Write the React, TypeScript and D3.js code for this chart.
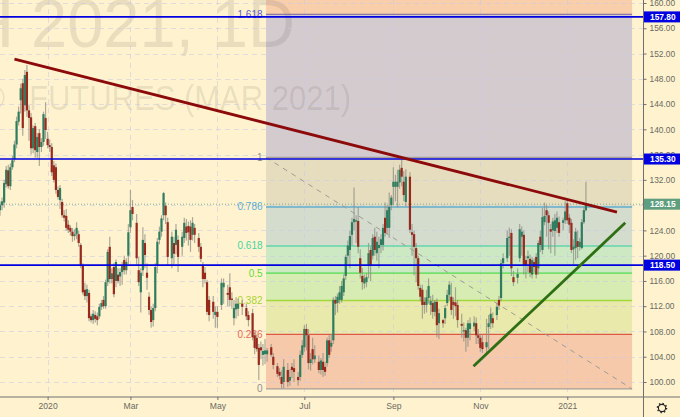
import React, { useEffect, useRef } from 'react'
import { select, scaleLinear, axisRight, axisBottom, line } from 'd3'

// rows are [session, open, high, low, close]
const barsDec19 = [
  [0,127.2,128.6,126.3,128.0],[1,128.0,129.2,127.2,128.6],[2,128.4,132.0,127.6,131.5],[3,131.3,134.2,130.8,133.6],
  [4,133.5,134.4,130.6,131.0],[5,131.0,134.6,130.4,134.0],[6,134.0,135.8,133.6,135.1],[7,135.3,138.2,134.8,137.6],
  [8,137.6,142.0,137.0,141.3],[9,141.2,143.6,140.6,142.8],[10,144.6,147.2,142.5,146.5],[11,147.3,148.0,139.0,140.2],
  [12,143.8,149.4,142.8,148.6],[13,149.1,150.2,142.0,143.0],[14,143.0,143.8,138.2,141.8],[15,141.9,142.6,136.0,137.0],
  [16,137.0,140.6,136.2,140.2],[17,140.5,141.0,135.5,136.7],[18,136.4,139.4,135.5,138.8],[19,139.4,140.0,134.2,137.2],
  [20,137.2,138.6,136.4,138.0],[21,138.0,142.8,137.4,142.4],[22,141.8,144.3,138.5,139.9],
]
const barsJanFeb = [
  [23,138.5,139.6,137.0,137.5],[24,137.5,138.4,136.4,137.2],[25,137.2,137.8,132.6,133.2],[26,134.3,135.0,131.6,132.0],
  [27,134.0,134.6,129.8,130.4],[28,130.4,131.0,128.9,129.3],[29,128.8,131.2,127.4,130.7],[30,128.5,129.0,126.0,126.4],
  [31,126.4,127.2,125.4,126.0],[32,126.3,127.4,124.0,124.4],[33,124.9,125.6,123.6,124.1],[34,124.4,124.8,123.2,123.8],
  [35,123.8,124.4,122.2,123.1],[36,123.1,124.2,122.4,123.4],[37,123.4,125.3,122.6,124.4],[38,123.4,124.0,121.4,122.0],
  [39,121.7,122.0,118.0,118.4],[40,118.4,118.8,113.8,114.2],[41,114.6,115.7,113.0,113.6],[42,113.6,115.4,112.6,114.7],
  [43,114.1,114.6,109.6,110.1],[44,110.4,110.8,109.4,109.8],[45,109.8,111.4,109.2,110.8],[46,110.6,111.2,109.4,110.0],
  [47,110.4,111.0,109.0,109.8],[48,110.4,112.4,110.0,111.9],[49,111.9,113.0,111.4,112.5],[50,113.0,113.6,111.6,112.0],
  [51,112.0,116.2,111.6,115.8],[52,115.8,121.0,115.2,120.6],[53,121.4,123.0,115.6,116.3],[54,116.3,118.0,115.6,117.2],
  [55,118.2,118.8,113.4,113.9],[56,116.0,119.4,115.0,119.0],[57,117.0,118.0,115.6,116.0],[58,116.7,118.0,115.2,117.4],
  [59,117.4,119.0,115.4,118.5],[60,119.3,120.0,117.0,117.7],[61,117.7,119.6,117.0,119.0],[62,120.0,125.0,118.6,123.7],
]
const barsMarApr = [
  [63,124.5,130.4,123.6,127.2],[64,127.7,128.8,125.6,126.6],[66,125.2,126.6,118.6,119.6],[67,117.7,119.8,115.2,115.8],
  [68,114.2,118.0,111.0,117.3],[69,117.7,124.5,116.8,122.5],[70,122.0,123.4,118.0,120.1],[71,117.3,118.8,114.6,116.5],
  [72,113.5,114.2,110.6,111.4],[73,111.4,112.0,108.6,109.5],[74,109.8,112.4,108.8,111.7],[75,111.7,118.8,111.2,118.2],
  [76,118.4,122.8,117.2,122.2],[77,122.5,124.6,121.8,123.8],[78,123.8,126.4,123.0,125.9],[79,126.4,130.1,125.6,129.9],
  [80,127.9,128.4,125.0,126.4],[81,125.3,126.0,118.5,119.8],[83,119.6,123.8,118.0,123.0],[84,122.0,123.0,118.6,120.3],
  [85,121.7,125.0,120.2,124.1],[86,122.5,123.2,117.4,119.8],[88,121.4,123.8,120.0,123.0],[89,122.8,126.0,122.0,125.2],
  [90,124.6,125.8,122.4,123.6],[91,124.7,125.4,121.6,123.7],[92,124.6,125.6,120.6,122.5],[93,123.3,126.1,122.4,125.2],
  [94,124.4,125.0,122.0,123.3],[96,122.8,123.6,120.6,121.4],[97,121.4,122.0,119.0,119.5],[98,118.4,119.0,115.0,116.3],
  [99,117.3,118.2,115.6,116.3],[100,115.8,116.2,110.6,111.1],[101,113.0,113.6,109.6,110.6],[103,112.7,113.6,110.0,111.1],
  [104,110.6,112.0,108.6,111.1],
]
const barsMayJun = [
  [105,111.1,112.0,108.6,110.3],[107,112.2,116.4,111.4,115.7],[108,115.0,116.4,112.4,115.7],[110,114.1,115.4,112.0,113.8],
  [111,115.0,117.2,112.0,113.0],[112,113.2,114.2,111.6,113.0],[113,110.1,113.0,109.0,111.7],[114,111.5,113.4,110.0,112.4],
  [115,111.6,113.2,110.4,112.4],[117,112.4,113.0,110.6,111.9],[119,111.7,112.4,109.8,110.4],[120,110.6,111.2,108.8,109.8],
  [122,110.9,111.6,106.6,107.1],[123,107.4,108.0,104.4,105.4],[124,107.0,107.4,104.8,105.2],[125,105.4,106.0,100.3,102.7],
  [126,105.5,106.4,103.6,105.0],[127,104.3,106.0,102.6,104.9],[128,104.4,106.8,102.8,105.0],[129,104.4,105.4,103.2,105.0],
  [131,105.5,106.0,104.0,104.3],[132,104.0,104.6,102.0,102.7],[134,102.5,103.0,100.8,101.3],[135,101.6,102.2,100.4,101.0],
  [136,100.8,101.8,99.0,99.7],[137,100.0,103.6,99.0,102.4],[139,101.9,103.0,99.2,100.0],[140,100.2,102.0,99.4,100.8],
  [141,102.4,103.0,100.6,101.9],[142,102.2,103.6,100.0,101.6],[144,100.8,101.6,99.4,100.3],[145,100.8,105.0,100.2,104.3],
  [146,104.3,106.6,103.8,105.8],
]
const barsJulAug = [
  [147,105.5,109.0,104.8,108.4],[148,108.4,109.2,105.0,107.4],[149,107.4,108.4,102.0,103.0],[150,103.0,104.6,101.8,103.6],
  [151,105.2,107.0,102.8,103.6],[152,103.6,105.8,103.0,104.2],[154,103.2,104.2,101.4,101.9],[155,101.9,103.8,101.2,103.4],
  [156,103.2,104.6,100.8,101.9],[157,102.4,103.2,101.0,101.6],[158,103.0,107.0,102.4,106.6],[159,106.6,107.4,103.8,104.3],
  [160,105.6,107.6,104.8,106.2],[161,106.6,113.4,106.0,113.0],[162,113.0,113.6,110.6,112.4],[163,112.5,114.0,111.0,113.5],
  [164,113.0,115.2,112.4,114.2],[165,113.0,116.0,112.6,115.2],[166,114.2,117.0,113.6,116.4],[167,116.8,120.2,116.2,119.8],
  [168,120.0,122.4,118.6,121.6],[169,120.9,124.0,118.0,123.1],[170,123.3,126.0,121.6,125.3],[171,125.3,130.8,124.0,125.8],
  [172,125.4,126.4,122.0,125.6],[173,125.5,127.7,120.4,121.4],[174,119.6,121.0,116.4,117.3],[175,116.8,118.0,114.6,115.8],
  [176,115.6,117.0,114.8,116.4],[177,115.8,117.2,115.0,116.6],[178,118.5,122.0,116.4,120.4],[179,120.9,121.4,116.0,118.5],
  [180,120.0,123.4,119.4,122.8],[181,123.0,124.4,120.0,120.9],[182,120.4,123.8,119.2,122.2],[183,121.2,123.0,118.0,121.7],
  [184,121.7,123.4,120.4,122.6],[185,121.7,125.0,120.8,124.4],[186,126.0,128.4,123.0,123.6],[187,124.4,128.0,123.4,127.2],
  [188,124.4,130.0,122.8,127.7],[189,128.0,129.6,127.2,129.2],
]
const barsSepOct = [
  [190,130.9,134.0,128.0,131.7],[191,130.9,132.8,128.6,131.7],[192,130.9,133.6,127.6,131.7],[193,131.6,134.4,130.6,133.6],
  [194,133.9,135.2,131.0,132.5],[195,131.7,133.4,128.6,129.6],[196,128.5,133.7,127.8,132.5],[198,132.5,133.2,123.6,124.1],
  [199,123.7,125.0,120.0,123.3],[200,123.4,124.0,116.9,121.4],[201,121.2,122.0,115.8,119.6],[202,119.6,120.0,114.6,115.2],
  [203,114.9,115.4,112.8,113.5],[204,114.6,115.4,110.0,112.2],[205,112.7,113.4,110.8,112.2],[206,112.2,114.6,111.0,113.4],
  [207,113.3,116.4,112.4,115.2],[208,112.2,113.6,110.6,112.8],[209,112.5,113.8,110.0,111.1],[210,111.1,113.0,110.4,112.7],
  [211,112.7,113.2,107.1,109.0],[212,109.3,111.6,106.8,110.9],[214,109.8,110.0,108.6,109.3],[215,110.1,112.2,109.2,111.7],
  [216,112.5,114.6,112.0,113.8],[217,113.8,116.0,113.0,115.4],[218,113.5,115.7,110.6,111.4],[219,112.7,113.4,110.0,112.2],
  [220,112.6,115.0,110.4,112.0],[221,112.2,113.0,108.6,109.8],[223,109.2,110.8,107.0,108.9],[224,108.0,109.4,106.4,108.2],
  [225,108.2,108.6,104.8,107.0],[226,107.0,109.8,105.6,109.3],[227,108.4,110.2,106.6,109.3],[229,108.8,110.4,108.0,109.4],
  [230,109.3,110.2,106.0,107.4],[231,107.4,108.4,106.0,107.0],
]
const barsNovDec = [
  [232,107.0,107.4,104.8,105.4],[233,106.3,107.4,104.6,105.2],[235,105.5,110.0,104.6,106.3],[236,108.7,110.6,105.2,109.3],
  [237,109.3,111.8,108.4,110.8],[238,110.1,111.0,108.6,109.3],[240,110.6,112.6,109.8,111.9],[241,113.0,113.6,111.4,112.1],
  [242,113.3,119.4,112.8,118.8],[243,118.8,120.4,118.0,119.6],[245,119.6,124.0,119.0,122.8],[246,122.8,124.4,120.0,123.0],
  [247,123.6,124.2,116.8,118.0],[248,116.6,117.6,115.2,115.8],[250,116.5,118.0,115.6,117.1],[251,119.6,125.0,119.0,124.2],
  [252,123.0,124.6,120.0,123.8],[253,123.3,124.0,117.0,118.5],[254,119.3,120.0,116.4,118.5],[255,119.6,120.8,117.4,119.9],
  [256,119.5,120.2,116.6,117.3],[257,117.0,119.8,116.4,119.3],[258,119.0,119.6,117.4,118.2],[259,119.8,120.4,116.4,117.0],
  [260,118.0,122.4,117.0,122.0],[261,123.0,124.0,120.6,121.7],[262,120.9,127.6,120.2,126.1],[263,125.3,128.4,124.8,126.3],
  [264,127.2,128.0,123.0,126.4],[265,126.4,127.0,121.0,125.2],[266,124.2,125.0,120.4,123.8],[267,124.0,126.0,123.0,125.4],
  [268,123.9,126.6,120.0,125.6],[269,124.4,127.0,123.6,126.0],[270,125.3,126.2,123.0,123.6],[272,125.2,126.0,124.0,125.6],
  [273,125.6,128.6,125.0,127.0],
]
const barsJan21 = [
  [274,128.3,129.1,125.0,125.6],[275,126.0,126.6,123.6,124.9],[276,125.2,125.8,120.4,120.9],[277,121.0,122.6,118.6,121.4],
  [278,121.2,124.4,119.3,123.8],[279,122.3,124.0,119.6,121.4],[280,121.4,122.8,120.8,122.2],[281,121.2,125.8,121.0,125.3],
  [282,125.3,127.8,125.0,127.2],[283,127.2,131.7,127.0,128.0],
]
const bars = [...barsDec19, ...barsJanFeb, ...barsMarApr, ...barsMayJun, ...barsJulAug, ...barsSepOct, ...barsNovDec, ...barsJan21]

const priceTicks = [100, 104, 108, 112, 116, 120, 124, 128, 132, 136, 140, 144, 148, 152, 156, 160]
const timeTicks = [23, 63, 105, 147, 190, 232, 274]
const timeLabels = ['2020', 'Mar', 'May', 'Jul', 'Sep', 'Nov', '2021']

// fib retracement drawn between these two prices and sessions
const fibHigh = 135.55
const fibLow = 98.9
const fibStart = 128.5
const fibEnd = 305.3
const fibLevels = [1.618, 1, 0.786, 0.618, 0.5, 0.382, 0.236, 0]
const fibLabels = ['1.618', '1', '0.786', '0.618', '0.5', '0.382', '0.236', '0']
const fibLineColors = ['#8a78a8', '#a8a098', '#7fb9cc', '#7fd8b4', '#4fdc4f', '#a2d83c', '#e0584a', '#a8a098']
const fibTextColors = ['#5f5fd0', '#8f8f8f', '#5aaee0', '#45d3a5', '#62d935', '#a8d232', '#e8695a', '#8f8f8f']
const fibZones = ['#f9ceaa', '#d4cbcf', '#e6dcbe', '#d4dccd', '#cde9c3', '#d6ecb2', '#e9e9ab', '#f5c9aa']

const supportLevels = [157.8, 135.3, 118.5]
const lastPrice = 128.15
const redTrend = [[7, 151.1], [298, 126.9]]
const greenTrend = [[228.7, 102.5], [302, 125.2]]

const WIDTH = 680
const HEIGHT = 417
const PLOT_W = 643.5
const PLOT_H = 397

const App = () => {
  const svgRef = useRef<SVGSVGElement>(null)

  useEffect(() => {
    const svg = select(svgRef.current)
    svg.selectAll('*').remove()

    const x = scaleLinear().domain([0, 284]).range([0, 588])
    const y = scaleLinear().domain([100, 160]).range([382, 3])
    const font = '"Liberation Sans", sans-serif'

    svg.append('rect').attr('width', WIDTH).attr('height', HEIGHT).attr('fill', '#fff3cf')

    const plot = svg.append('g')

    // fib zones
    const fibPrice = (lvl: number) => fibLow + (fibHigh - fibLow) * lvl
    const fibX0 = x(fibStart)
    const fibX1 = x(fibEnd)
    plot.selectAll('.zone')
      .data(fibZones)
      .join('rect')
      .attr('class', 'zone')
      .attr('x', fibX0)
      .attr('width', fibX1 - fibX0)
      .attr('y', (d, i) => (i === 0 ? 0 : y(fibPrice(fibLevels[i - 1]))))
      .attr('height', (d, i) => y(fibPrice(fibLevels[i])) - (i === 0 ? 0 : y(fibPrice(fibLevels[i - 1]))))
      .attr('fill', d => d)

    // watermark sits over the zones
    const mark = plot.append('g').attr('font-family', font).attr('fill', '#55504a').attr('fill-opacity', 0.13)
    mark.append('text').attr('x', 14).attr('y', 47).attr('text-anchor', 'end').attr('font-size', 68).text('H')
    mark.append('text').attr('x', 31).attr('y', 47).attr('font-size', 68)
      .attr('textLength', 264).attr('lengthAdjust', 'spacingAndGlyphs').text('2021, 1D')
    mark.append('text').attr('x', 5).attr('y', 110).attr('text-anchor', 'end').attr('font-size', 35).text('©')
    mark.append('text').attr('x', 29).attr('y', 110).attr('font-size', 35)
      .attr('textLength', 322).attr('lengthAdjust', 'spacingAndGlyphs').text('FUTURES (MAR 2021)')

    // grid
    plot.selectAll('.hgrid')
      .data(priceTicks)
      .join('line')
      .attr('class', 'hgrid')
      .attr('x1', 0).attr('x2', PLOT_W)
      .attr('y1', d => Math.round(y(d)) + 0.5).attr('y2', d => Math.round(y(d)) + 0.5)
    plot.selectAll('.vgrid')
      .data(timeTicks)
      .join('line')
      .attr('class', 'vgrid')
      .attr('x1', d => Math.round(x(d)) + 0.5).attr('x2', d => Math.round(x(d)) + 0.5)
      .attr('y1', 0).attr('y2', PLOT_H)
    plot.selectAll('.hgrid, .vgrid')
      .attr('stroke', '#c9c9e6').attr('stroke-opacity', 0.55).attr('stroke-dasharray', '5 4')

    // fib lines and labels
    plot.selectAll('.fibline')
      .data(fibLevels)
      .join('line')
      .attr('class', 'fibline')
      .attr('x1', fibX0).attr('x2', fibX1)
      .attr('y1', d => y(fibPrice(d))).attr('y2', d => y(fibPrice(d)))
      .attr('stroke', (d, i) => fibLineColors[i])
      .attr('stroke-width', d => (d === 0.786 || d === 0.618 ? 2 : 1.3))
    plot.selectAll('.fiblabel')
      .data(fibLevels)
      .join('text')
      .attr('class', 'fiblabel')
      .attr('x', fibX0 - 3.5)
      .attr('y', d => y(fibPrice(d)) + 3.5)
      .attr('text-anchor', 'end')
      .attr('font-family', font)
      .attr('font-size', 10)
      .attr('fill', (d, i) => fibTextColors[i])
      .text((d, i) => fibLabels[i])
    plot.append('line')
      .attr('x1', fibX0).attr('y1', y(fibHigh))
      .attr('x2', fibX1).attr('y2', y(fibLow))
      .attr('stroke', '#a09c94').attr('stroke-dasharray', '5 5').attr('stroke-width', 1)

    // last price dotted line
    plot.append('line')
      .attr('x1', 0).attr('x2', PLOT_W)
      .attr('y1', y(lastPrice)).attr('y2', y(lastPrice))
      .attr('stroke', '#7fae8a').attr('stroke-dasharray', '1 2').attr('stroke-width', 1)

    // candles
    const candles = plot.append('g').style('filter', 'blur(0.35px)')
    candles.selectAll('.wick')
      .data(bars)
      .join('line')
      .attr('class', 'wick')
      .attr('x1', d => x(d[0])).attr('x2', d => x(d[0]))
      .attr('y1', d => y(d[2])).attr('y2', d => y(d[3]))
      .attr('stroke', '#8f8f85').attr('stroke-opacity', 0.75).attr('stroke-width', 1.2)
    candles.selectAll('.body')
      .data(bars)
      .join('rect')
      .attr('class', 'body')
      .attr('x', d => x(d[0]) - 1.1)
      .attr('width', 2.2)
      .attr('y', d => y(Math.max(d[1], d[4])))
      .attr('height', d => Math.max(1, Math.abs(y(d[1]) - y(d[4]))))
      .attr('fill', d => (d[4] >= d[1] ? '#2f7d5e' : '#97291d'))

    // horizontal levels
    plot.selectAll('.level')
      .data(supportLevels)
      .join('line')
      .attr('class', 'level')
      .attr('x1', 0).attr('x2', PLOT_W)
      .attr('y1', d => y(d)).attr('y2', d => y(d))
      .attr('stroke', '#0000e0').attr('stroke-width', 1.6)

    // trend lines
    const trend = line<number[]>().x(d => x(d[0])).y(d => y(d[1]))
    plot.append('path').attr('d', trend(redTrend)).attr('fill', 'none').attr('stroke', '#8c0a0a').attr('stroke-width', 2.8)
    plot.append('path').attr('d', trend(greenTrend)).attr('fill', 'none').attr('stroke', '#2f6f14').attr('stroke-width', 2.8)

    // price axis
    const yAxis = axisRight(y)
      .tickValues(priceTicks)
      .tickFormat(d => (d as number).toFixed(2))
      .tickSize(3)
      .tickPadding(3)
    const yG = svg.append('g').attr('transform', `translate(${PLOT_W},0)`).call(yAxis)
    yG.select('.domain').remove()
    yG.selectAll('line').attr('stroke', '#6f6f6f')
    yG.selectAll('text').attr('fill', '#6a6a62').attr('font-family', font).attr('font-size', 8.4)

    // time axis
    const xAxis = axisBottom(x)
      .tickValues(timeTicks)
      .tickFormat((d, i) => timeLabels[i])
      .tickSize(3)
      .tickPadding(3)
    const xG = svg.append('g').attr('transform', `translate(0,${PLOT_H})`).call(xAxis)
    xG.select('.domain').remove()
    xG.selectAll('line').attr('stroke', '#6f6f6f')
    xG.selectAll('text').attr('fill', '#6a6a62').attr('font-family', font).attr('font-size', 8.6)

    svg.append('line').attr('x1', 0).attr('x2', WIDTH).attr('y1', PLOT_H).attr('y2', PLOT_H).attr('stroke', '#6f6f6f')
    svg.append('line').attr('x1', PLOT_W).attr('x2', PLOT_W).attr('y1', 0).attr('y2', HEIGHT).attr('stroke', '#6f6f6f')

    // price tags
    const tags = [
      ...supportLevels.map(v => ({ v, fill: '#0000e0' })),
      { v: lastPrice, fill: '#5f9f80' },
    ]
    const tag = svg.selectAll('.tag').data(tags).join('g').attr('class', 'tag')
      .attr('transform', d => `translate(${PLOT_W + 0.5},${y(d.v)})`)
    tag.append('rect').attr('x', 0).attr('y', -5.5).attr('width', WIDTH - PLOT_W).attr('height', 11).attr('fill', d => d.fill)
    tag.append('text')
      .attr('x', 6).attr('y', 3)
      .attr('fill', '#fff').attr('font-family', font).attr('font-size', 8.4).attr('font-weight', 700)
      .text(d => d.v.toFixed(2))

    // settings gear
    const gear = svg.append('g').attr('transform', 'translate(662,408)').attr('fill', 'none').attr('stroke', '#222')
    gear.append('circle').attr('r', 3.6).attr('stroke-width', 1.1)
    gear.append('circle').attr('r', 4.6).attr('stroke-width', 1.4).attr('stroke-dasharray', '1.4 2.2')
  }, [])

  return (
    <svg
      ref={svgRef}
      width={WIDTH}
      height={HEIGHT}
      style={{ position: 'fixed', left: 0, top: 0, display: 'block' }}
    />
  )
}

export default App
